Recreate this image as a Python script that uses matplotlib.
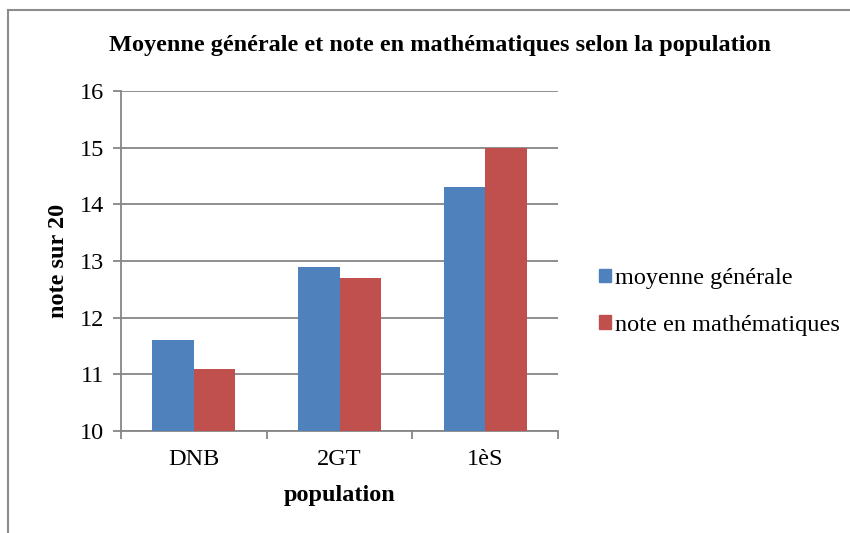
import matplotlib
matplotlib.use("Agg")
import matplotlib.pyplot as plt
from matplotlib.lines import Line2D
from matplotlib.patches import Patch
import numpy as np

categories = ["DNB", "2GT", "1èS"]
moyenne = [11.6, 12.9, 14.3]
maths = [11.1, 12.7, 15.0]
series_names = ["moyenne générale", "note en mathématiques"]
yticks = [10, 11, 12, 13, 14, 15, 16]

plt.rcParams['font.family'] = ['Liberation Serif', 'DejaVu Serif']
W, H = 850, 533
fig = plt.figure(figsize=(W/100, H/100), dpi=100)
grey = '#868686'
fs = 17.5

ax = fig.add_axes([121/W, 1-431/H, (558-121)/W, (431-91)/H])
x = np.arange(len(categories))
bw = 1/3.5
ax.bar(x - bw/2, moyenne, bw, color='#4F81BD', zorder=3, label=series_names[0])
ax.bar(x + bw/2, maths, bw, color='#C0504D', zorder=3, label=series_names[1])
ax.set_xlim(-0.5, len(categories)-0.5)
ax.set_ylim(10, 16)
ax.set_yticks(yticks)
ax.set_yticklabels([str(v) for v in yticks], fontsize=fs)
ax.yaxis.grid(True, color=grey, linewidth=1.3, zorder=0)
ax.set_xticks(x)
ax.set_xticklabels(categories, fontsize=fs)
ax.tick_params(axis='x', length=0, pad=13)
ax.tick_params(axis='y', length=6, width=1.3, color=grey, pad=6, direction='out')
ax.set_xticks(np.arange(-0.5, len(categories), 1), minor=True)
ax.tick_params(axis='x', which='minor', length=6, width=1.3, color=grey, direction='out')
for s in ['top', 'right']:
    ax.spines[s].set_visible(False)
for s in ['left', 'bottom']:
    ax.spines[s].set_color(grey)
    ax.spines[s].set_linewidth(1.3)
ax.set_axisbelow(True)

ax.set_xlabel("population", fontsize=fs, fontweight='bold', labelpad=11)
ax.set_ylabel("note sur 20", fontsize=fs, fontweight='bold', labelpad=8)

fig.text(440/W, 1-46/H, "Moyenne générale et note en mathématiques selon la population",
         ha='center', va='center', fontsize=fs, fontweight='bold')

handles = [Patch(color='#4F81BD'), Patch(color='#C0504D')]
fig.legend(handles, series_names, loc='center left', bbox_to_anchor=(577/W, 1-302/H),
           frameon=False, fontsize=fs, handlelength=0.48, handleheight=0.48,
           handletextpad=0.2, labelspacing=1.05)

# outer chart frame
fig.add_artist(Line2D([8/W, 8/W], [0, 1-10/H], color='#8c8c8c', lw=1.5, transform=fig.transFigure))
fig.add_artist(Line2D([8/W, 1], [1-10/H, 1-10/H], color='#8c8c8c', lw=1.5, transform=fig.transFigure))

fig.savefig("out.png", dpi=100)
